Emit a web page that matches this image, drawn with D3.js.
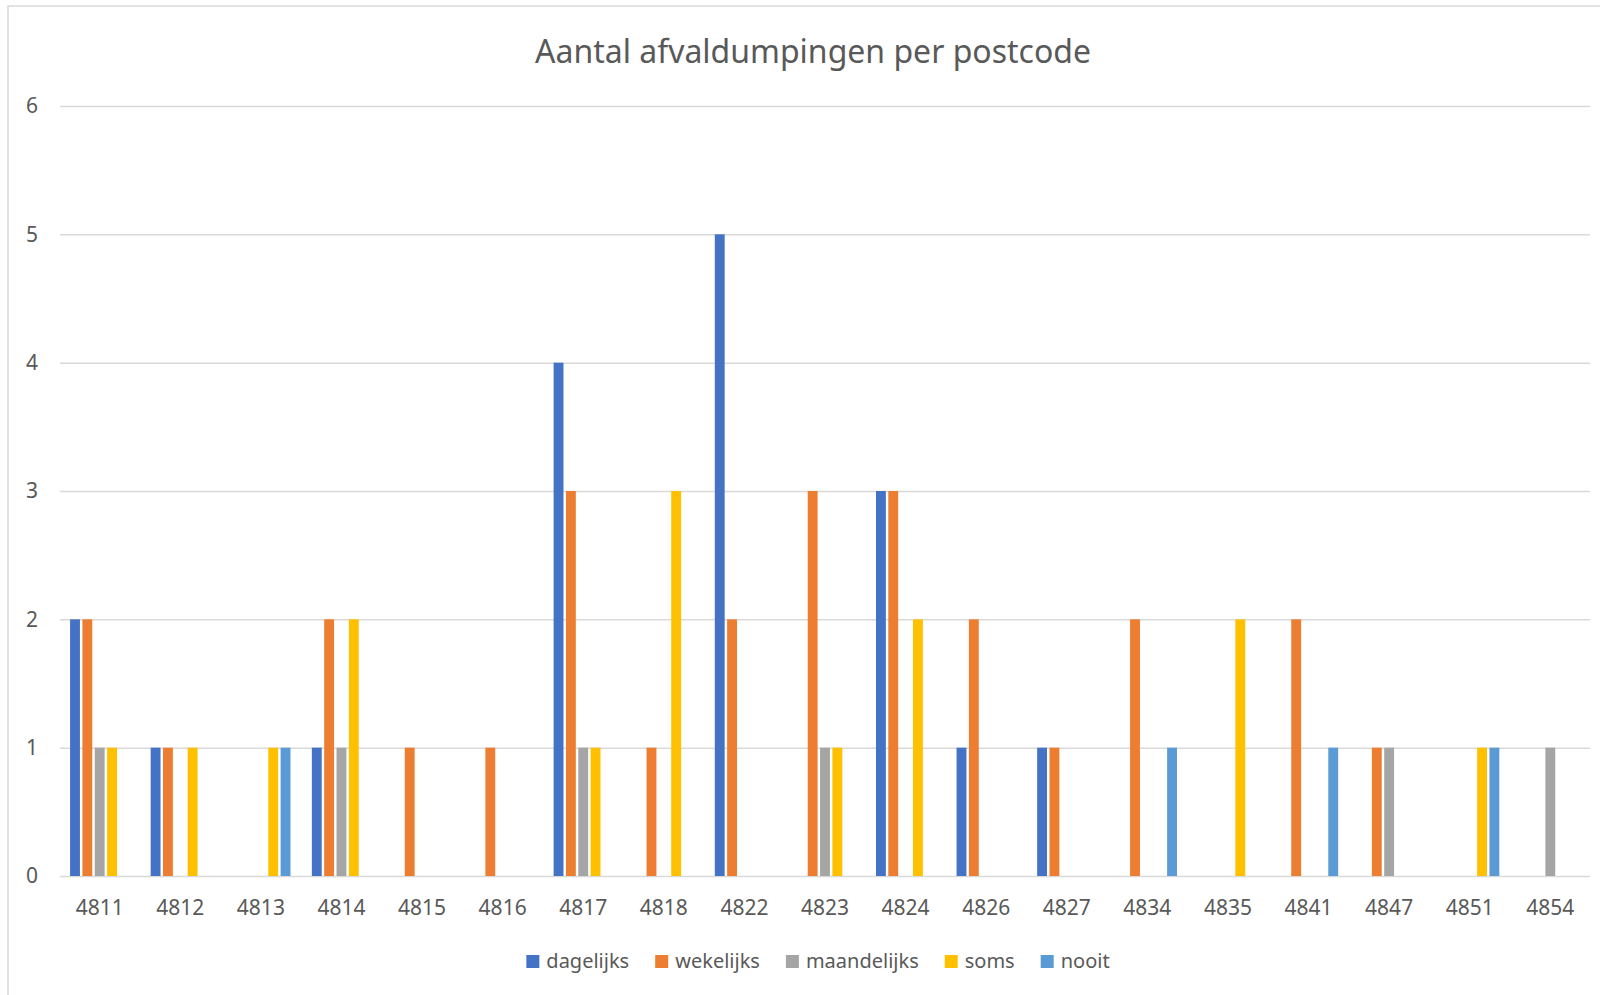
<!DOCTYPE html>
<html>
<head>
<meta charset="utf-8">
<script src="https://cdn.jsdelivr.net/npm/d3@7"></script>
<style>
  body { margin: 0; background: #fff; }
  svg { display: block; font-family: "Noto Sans", sans-serif; }
</style>
</head>
<body>
<div class="canvas"><svg></svg></div>
<script>
// postcodes on the x axis
const postcodes = ['4811', '4812', '4813', '4814', '4815', '4816', '4817', '4818', '4822',
    '4823', '4824', '4826', '4827', '4834', '4835', '4841', '4847', '4851', '4854'];

const seriesNames = ['dagelijks', 'wekelijks', 'maandelijks', 'soms', 'nooit'];
const seriesColors = ['#4472C4', '#ED7D31', '#A5A5A5', '#FFC000', '#5B9BD5'];

// one value per postcode, same order as above
const dagelijks   = [2, 1, 0, 1, 0, 0, 4, 0, 5, 0, 3, 1, 1, 0, 0, 0, 0, 0, 0];
const wekelijks   = [2, 1, 0, 2, 1, 1, 3, 1, 2, 3, 3, 2, 1, 2, 0, 2, 1, 0, 0];
const maandelijks = [1, 0, 0, 1, 0, 0, 1, 0, 0, 1, 0, 0, 0, 0, 0, 0, 1, 0, 1];
const soms        = [1, 1, 1, 2, 0, 0, 1, 3, 0, 1, 2, 0, 0, 0, 2, 0, 0, 1, 0];
const nooit       = [0, 0, 1, 0, 0, 0, 0, 0, 0, 0, 0, 0, 0, 1, 0, 1, 0, 1, 0];

const yTicks = [0, 1, 2, 3, 4, 5, 6];
const title = 'Aantal afvaldumpingen per postcode';

const seriesValues = [dagelijks, wekelijks, maandelijks, soms, nooit];

const width = 1600, height = 995;
const textColor = '#595959';
const gridColor = '#D9D9D9';

const svg = d3.select('.canvas').select('svg')
    .attr('width', width)
    .attr('height', height);

// chart frame (runs off the right/bottom of the picture)
svg.append('rect')
    .attr('x', 8).attr('y', 6)
    .attr('width', 1620).attr('height', 1010)
    .attr('fill', '#fff')
    .attr('stroke', gridColor)
    .attr('stroke-width', 1.5);

const plot = { left: 60, right: 1590, top: 106, bottom: 876 };

const x0 = d3.scaleBand()
    .domain(postcodes)
    .range([plot.left, plot.right])
    .paddingInner(0.265)
    .paddingOuter(0.125);

const x1 = d3.scaleBand()
    .domain(seriesNames)
    .range([0, x0.bandwidth()])
    .paddingInner(0.2);

const y = d3.scaleLinear()
    .domain([0, 6])
    .range([plot.bottom, plot.top]);

// gridlines + y labels
const yAxis = svg.append('g')
    .attr('transform', `translate(${plot.left},0)`)
    .call(d3.axisLeft(y).tickValues(yTicks).tickFormat(d3.format('d'))
        .tickSize(-(plot.right - plot.left)).tickPadding(22));
yAxis.select('.domain').remove();
yAxis.selectAll('line').attr('stroke', gridColor).attr('stroke-width', 1.5);
yAxis.selectAll('text')
    .attr('fill', textColor)
    .style('font-size', '21px')
    .style('font-family', '"Noto Sans", sans-serif');

// bars
const rows = postcodes.map((p, i) => ({
    postcode: p,
    values: seriesNames.map((s, j) => ({ key: s, value: seriesValues[j][i], color: seriesColors[j] }))
}));

svg.append('g')
    .selectAll('g')
    .data(rows)
    .join('g')
    .attr('transform', d => `translate(${x0(d.postcode)},0)`)
    .selectAll('rect')
    .data(d => d.values.filter(v => v.value > 0))
    .join('rect')
    .attr('x', d => x1(d.key))
    .attr('width', x1.bandwidth())
    .attr('y', d => y(d.value))
    .attr('height', d => y(0) - y(d.value))
    .attr('fill', d => d.color);

// x labels
const xAxis = svg.append('g')
    .attr('transform', `translate(0,${plot.bottom})`)
    .call(d3.axisBottom(x0).tickSize(0).tickPadding(24));
xAxis.select('.domain').remove();
xAxis.selectAll('text')
    .attr('fill', textColor)
    .style('font-size', '21px')
    .style('font-family', '"Noto Sans", sans-serif');

// title, sized so it spans roughly the same width as the original
const titleText = svg.append('text')
    .attr('x', 813)
    .attr('y', 63)
    .attr('text-anchor', 'middle')
    .attr('fill', textColor)
    .style('font-size', '30px')
    .text(title);
let tw = titleText.node().getComputedTextLength();
titleText.style('font-size', (30 * 556 / tw).toFixed(2) + 'px');

// legend
const legend = svg.append('g');
const items = legend.selectAll('g')
    .data(seriesNames)
    .join('g');
items.append('rect')
    .attr('width', 13).attr('height', 13)
    .attr('y', 955)
    .attr('fill', (d, i) => seriesColors[i]);
items.append('text')
    .attr('x', 20)
    .attr('y', 968)
    .attr('fill', textColor)
    .style('font-size', '20px')
    .text(d => d);

let cursor = 0;
items.each(function () {
    const w = 20 + d3.select(this).select('text').node().getComputedTextLength();
    d3.select(this).attr('transform', `translate(${cursor},0)`);
    cursor += w + 26;
});
const legendWidth = cursor - 26;
legend.attr('transform', `translate(${818 - legendWidth / 2},0)`);
</script>
</body>
</html>
